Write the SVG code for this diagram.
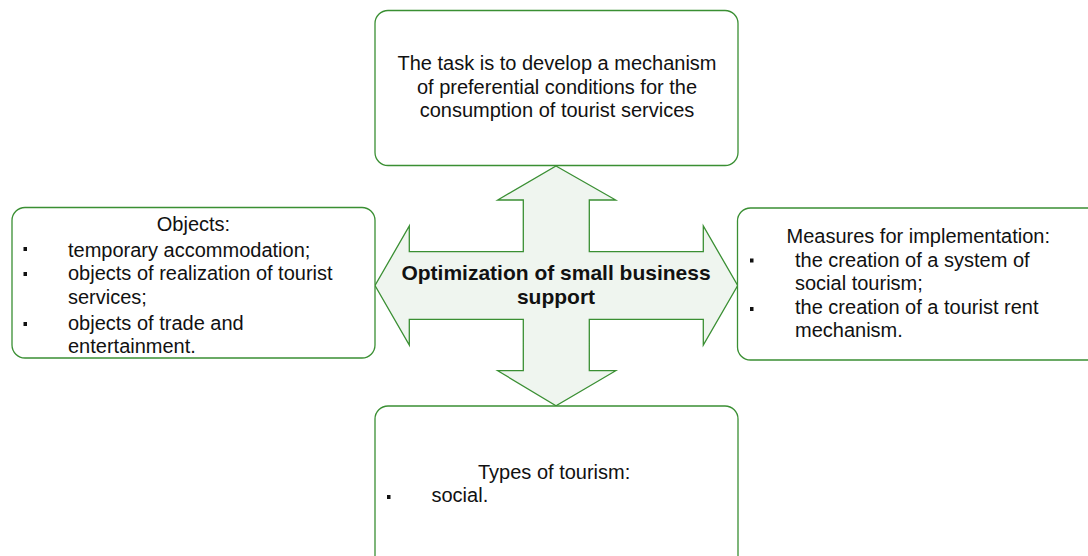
<svg xmlns="http://www.w3.org/2000/svg" width="1088" height="556" viewBox="0 0 1088 556">
<style>
.box{fill:#ffffff;stroke:#3a8f33;stroke-width:1.3}
.t{font-family:"Liberation Sans",Arial,sans-serif;font-size:20px;fill:#111111}
.c{text-anchor:middle}
.b{font-family:"Liberation Sans",Arial,sans-serif;font-size:21px;font-weight:bold;fill:#111111;text-anchor:middle}
.bul{fill:#111111}
.cross{fill:#eff5ef;stroke:#3a8f33;stroke-width:1.3;stroke-linejoin:miter}
</style>
<rect width="1088" height="556" fill="#ffffff"/>
<g id="connectors">
<polygon class="cross" points="556,166 615.7,200 589.3,200 589.3,251.7 703.3,251.7 703.3,226 737.7,285.5 703.3,345 703.3,319.3 589.3,319.3 589.3,370.7 615.7,370.7 556,405.7 497.7,370.7 523.3,370.7 523.3,319.3 409.3,319.3 409.3,345 375,285.5 409.3,226 409.3,251.7 523.3,251.7 523.3,200 497.7,200"/>
</g>
<g id="node-center">
<text class="b" x="556" y="280">Optimization of small business</text>
<text class="b" x="556" y="303.5">support</text>
</g>
<g id="node-top">
<rect class="box" x="375" y="10.5" width="363" height="155" rx="13"/>
<text class="t c" x="557" y="70">The task is to develop a mechanism</text>
<text class="t c" x="557" y="93.5">of preferential conditions for the</text>
<text class="t c" x="557" y="117">consumption of tourist services</text>
</g>
<g id="node-left">
<rect class="box" x="12" y="207.5" width="363" height="150.5" rx="13"/>
<text class="t c" x="193.5" y="231">Objects:</text>
<rect class="bul" x="23.5" y="247" width="3.5" height="4"/>
<text class="t" x="68" y="256.5">temporary accommodation;</text>
<rect class="bul" x="23.5" y="272" width="3.5" height="4"/>
<text class="t" x="68" y="280">objects of realization of tourist</text>
<text class="t" x="68" y="304">services;</text>
<rect class="bul" x="23.5" y="322" width="3.5" height="4"/>
<text class="t" x="68" y="329.5">objects of trade and</text>
<text class="t" x="68" y="353">entertainment.</text>
</g>
<g id="node-right">
<rect class="box" x="737.5" y="208" width="364" height="152" rx="13"/>
<text class="t" x="786.5" y="242.5">Measures for implementation:</text>
<rect class="bul" x="750" y="258.5" width="3.5" height="4"/>
<text class="t" x="795" y="266.7">the creation of a system of</text>
<text class="t" x="795" y="289.5">social tourism;</text>
<rect class="bul" x="750" y="307" width="3.5" height="4"/>
<text class="t" x="795" y="313.5">the creation of a tourist rent</text>
<text class="t" x="795" y="337">mechanism.</text>
</g>
<g id="node-bottom">
<rect class="box" x="375" y="406" width="363" height="165" rx="13"/>
<text class="t" x="478" y="478.5">Types of tourism:</text>
<rect class="bul" x="387" y="495" width="3.5" height="4"/>
<text class="t" x="431.5" y="502">social.</text>
</g>
</svg>
